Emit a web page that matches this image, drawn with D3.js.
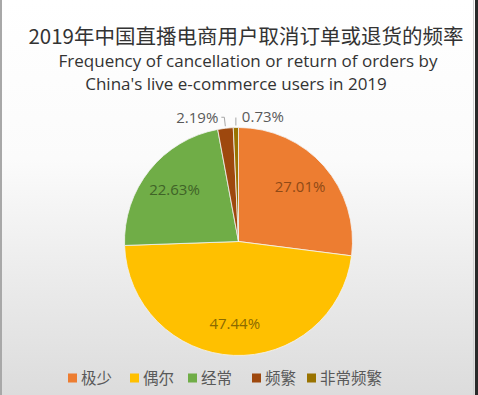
<!DOCTYPE html>
<html>
<head>
<meta charset="utf-8">
<script src="https://cdn.jsdelivr.net/npm/d3@7"></script>
<style>
	body { margin: 0; padding: 0; background: #fff; }
	svg { display: block; }
</style>
</head>
<body>
<div id="chart"></div>
<script>
// data
var categories = ['极少', '偶尔', '经常', '频繁', '非常频繁'];
var values = [27.01, 47.44, 22.63, 2.19, 0.73];
var valueLabels = ['27.01%', '47.44%', '22.63%', '2.19%', '0.73%'];
var titleLines = ['2019年中国直播电商用户取消订单或退货的频率',
	'Frequency of cancellation or return of orders by',
	"China's live e-commerce users in 2019"];

var colors = ['#ed7d31', '#ffc000', '#70ad47', '#9e480e', '#997300'];
var labelColors = ['#8f4a16', '#8a6a00', '#3f6327', '#595959', '#595959'];

var width = 478;
var height = 395;

var svg = d3.select('#chart')
	.append('svg')
	.attr('width', width)
	.attr('height', height);

var defs = svg.append('defs');
var grad = defs.append('linearGradient')
	.attr('id', 'bg')
	.attr('x1', 0).attr('y1', 0)
	.attr('x2', 0).attr('y2', 1);
grad.append('stop').attr('offset', '0%').attr('stop-color', '#ffffff');
grad.append('stop').attr('offset', '40%').attr('stop-color', '#fbfbfb');
grad.append('stop').attr('offset', '100%').attr('stop-color', '#dcdcdc');

svg.append('rect')
	.attr('width', width)
	.attr('height', height)
	.attr('fill', 'url(#bg)');

// frame edges of the photo
svg.append('rect').attr('x', 0).attr('y', 0).attr('width', 2).attr('height', height).attr('fill', '#a8a8a8');
svg.append('rect').attr('x', 473).attr('y', 0).attr('width', 1).attr('height', height).attr('fill', '#d0d0d0');
svg.append('rect').attr('x', 475).attr('y', 0).attr('width', 3).attr('height', height).attr('fill', '#2a2a2a');

// title
var title = svg.append('g').attr('class', 'title');
title.append('text')
	.attr('x', 246)
	.attr('y', 44)
	.attr('text-anchor', 'middle')
	.attr('font-family', '"Noto Sans CJK SC", "Noto Sans", sans-serif')
	.attr('font-size', 20.5)
	.attr('fill', '#333')
	.text(titleLines[0]);
title.selectAll('text.en')
	.data(titleLines.slice(1))
	.enter()
	.append('text')
	.attr('class', 'en')
	.attr('x', function(d, i) { return i === 0 ? 248 : 236; })
	.attr('y', function(d, i) { return 67 + i * 23; })
	.attr('text-anchor', 'middle')
	.attr('font-family', '"Open Sans", "Noto Sans", sans-serif')
	.attr('font-size', 17)
	.attr('fill', '#333')
	.text(function(d) { return d; });

// pie
var cx = 238.5, cy = 241.5, radius = 114;

var pie = d3.pie()
	.sort(null)
	.value(function(d) { return d; });

var arcs = pie(values);

var arc = d3.arc()
	.innerRadius(0)
	.outerRadius(radius);

var labelArc = d3.arc()
	.innerRadius(radius * 0.72)
	.outerRadius(radius * 0.72);

var outerArc = d3.arc()
	.innerRadius(radius + 1)
	.outerRadius(radius + 1);

var g = svg.append('g')
	.attr('transform', 'translate(' + cx + ',' + cy + ')');

g.selectAll('path.slice')
	.data(arcs)
	.enter()
	.append('path')
	.attr('class', 'slice')
	.attr('d', arc)
	.attr('fill', function(d, i) { return colors[i]; })
	.attr('stroke', '#f4f4f4')
	.attr('stroke-width', 0.8);

// labels: big slices inside, tiny slices outside with leader lines
var inside = arcs.filter(function(d) { return d.data > 5; });
var outside = arcs.filter(function(d) { return d.data <= 5; });

g.selectAll('text.in')
	.data(inside)
	.enter()
	.append('text')
	.attr('class', 'in')
	.attr('transform', function(d) { return 'translate(' + labelArc.centroid(d) + ')'; })
	.attr('text-anchor', 'middle')
	.attr('dy', '0.35em')
	.attr('font-family', '"Open Sans", sans-serif')
	.attr('font-size', 15)
	.attr('fill', function(d) { return labelColors[d.index]; })
	.text(function(d) { return valueLabels[d.index]; });

outside.forEach(function(d, k) {
	var p = outerArc.centroid(d);
	var ly = p[1] - 10;
	var left = k === 0;
	var lx = left ? p[0] - 4 : p[0] + 6;
	var pts = left ? [[p[0], p[1] - 1], [p[0] - 1, ly], [lx, ly]] : [[p[0], p[1] - 1], [p[0], ly + 1]];
	g.append('path')
		.attr('d', d3.line()(pts))
		.attr('fill', 'none')
		.attr('stroke', '#a6a6a6')
		.attr('stroke-width', 1);
	g.append('text')
		.attr('x', left ? lx - 3 : lx)
		.attr('y', ly)
		.attr('dy', '0.35em')
		.attr('text-anchor', left ? 'end' : 'start')
		.attr('font-family', '"Open Sans", sans-serif')
		.attr('font-size', 15)
		.attr('fill', '#595959')
		.text(valueLabels[d.index]);
});

// legend
var legendOffsets = [0, 62, 120, 184, 239];
var legend = svg.append('g').attr('class', 'legend');
var items = legend.selectAll('g')
	.data(categories)
	.enter()
	.append('g')
	.attr('transform', function(d, i) { return 'translate(' + (68 + legendOffsets[i]) + ',378)'; });

items.append('rect')
	.attr('x', 0)
	.attr('y', -4.5)
	.attr('width', 9)
	.attr('height', 9)
	.attr('fill', function(d, i) { return colors[i]; });

items.append('text')
	.attr('x', 13)
	.attr('dy', '0.36em')
	.attr('font-family', '"Noto Sans CJK SC", sans-serif')
	.attr('font-size', 15.5)
	.attr('fill', '#595959')
	.text(function(d) { return d; });
</script>
</body>
</html>
